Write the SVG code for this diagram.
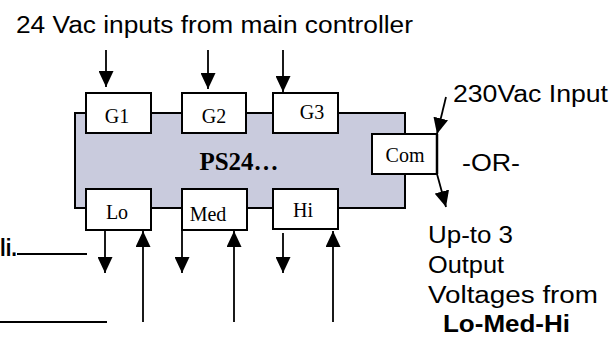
<svg xmlns="http://www.w3.org/2000/svg" width="611" height="343" viewBox="0 0 611 343">
<defs>
<style>
.box{fill:#ffffff;stroke:#000;stroke-width:2}
.main{fill:#c9cbdd;stroke:#000;stroke-width:2}
.ser{font-family:"Liberation Serif","Times New Roman",serif;font-size:20px;fill:#000;text-anchor:middle}
.sans{font-family:"Liberation Sans",Arial,sans-serif;font-size:23px;fill:#000}
.ln{stroke:#000;stroke-width:1.8;fill:none}
.arr{stroke:#000;stroke-width:1.8;fill:none;marker-end:url(#ah)}
</style>
<marker id="ah" viewBox="0 0 16 15" refX="16" refY="7.5" markerWidth="16" markerHeight="15" markerUnits="userSpaceOnUse" orient="auto">
<path d="M0,0 L16,7.5 L0,15 z" fill="#000"/>
</marker>
</defs>
<g id="ps24">
<rect class="main" x="75" y="113" width="330" height="95"/>
<text x="239" y="170" font-family="'Liberation Serif','Times New Roman',serif" font-size="25" font-weight="bold" text-anchor="middle">PS24…</text>
</g>
<g id="g1"><rect class="box" x="86" y="93" width="65" height="40"/><text class="ser" x="117" y="123">G1</text></g>
<g id="g2"><rect class="box" x="182" y="93" width="64" height="40"/><text class="ser" x="214" y="123">G2</text></g>
<g id="g3"><rect class="box" x="273" y="93" width="65" height="40"/><text class="ser" x="312" y="119">G3</text></g>
<g id="com"><rect class="box" x="372" y="134" width="65" height="40"/><text class="ser" x="405" y="162">Com</text></g>
<g id="lo"><rect class="box" x="86" y="189" width="65" height="41"/><text class="ser" x="117" y="219">Lo</text></g>
<g id="med"><rect class="box" x="182" y="189" width="65" height="41"/><text class="ser" x="208" y="221">Med</text></g>
<g id="hi"><rect class="box" x="273" y="189" width="65" height="40"/><text class="ser" x="303" y="217">Hi</text></g>
<g id="connectors">
<line class="arr" x1="106" y1="50" x2="106" y2="87"/>
<line class="arr" x1="208" y1="50" x2="208" y2="89"/>
<line class="arr" x1="283" y1="50" x2="283" y2="92"/>
<line class="arr" x1="446" y1="97" x2="437" y2="134"/>
<line class="ln" x1="437" y1="134" x2="437" y2="174" style="stroke-width:2.5"/>
<line class="arr" x1="437" y1="174" x2="446" y2="207"/>
<line class="arr" x1="105" y1="230" x2="105" y2="273"/>
<line class="arr" x1="143" y1="322" x2="143" y2="231"/>
<line class="arr" x1="182" y1="230" x2="182" y2="273"/>
<line class="arr" x1="234" y1="322" x2="234" y2="231"/>
<line class="arr" x1="283" y1="233" x2="283" y2="273"/>
<line class="arr" x1="333" y1="322" x2="333" y2="231"/>
<line class="ln" x1="17" y1="254" x2="87" y2="254"/>
<line class="ln" x1="0" y1="322" x2="107" y2="322"/>
</g>
<g id="labels">
<text class="sans" x="16" y="33" textLength="397" lengthAdjust="spacingAndGlyphs">24 Vac inputs from main controller</text>
<text class="sans" x="453" y="102" textLength="155" lengthAdjust="spacingAndGlyphs">230Vac Input</text>
<text class="sans" x="462" y="171" textLength="58" lengthAdjust="spacingAndGlyphs">-OR-</text>
<text class="sans" x="428" y="243" textLength="85" lengthAdjust="spacingAndGlyphs">Up-to 3</text>
<text class="sans" x="428" y="273" textLength="76" lengthAdjust="spacingAndGlyphs">Output</text>
<text class="sans" x="428" y="303" textLength="170" lengthAdjust="spacingAndGlyphs">Voltages from</text>
<text class="sans" x="443" y="332" font-weight="bold" textLength="127" lengthAdjust="spacingAndGlyphs">Lo-Med-Hi</text>
<text class="sans" x="0" y="256" font-weight="bold" textLength="17" lengthAdjust="spacingAndGlyphs">li.</text>
</g>
</svg>
